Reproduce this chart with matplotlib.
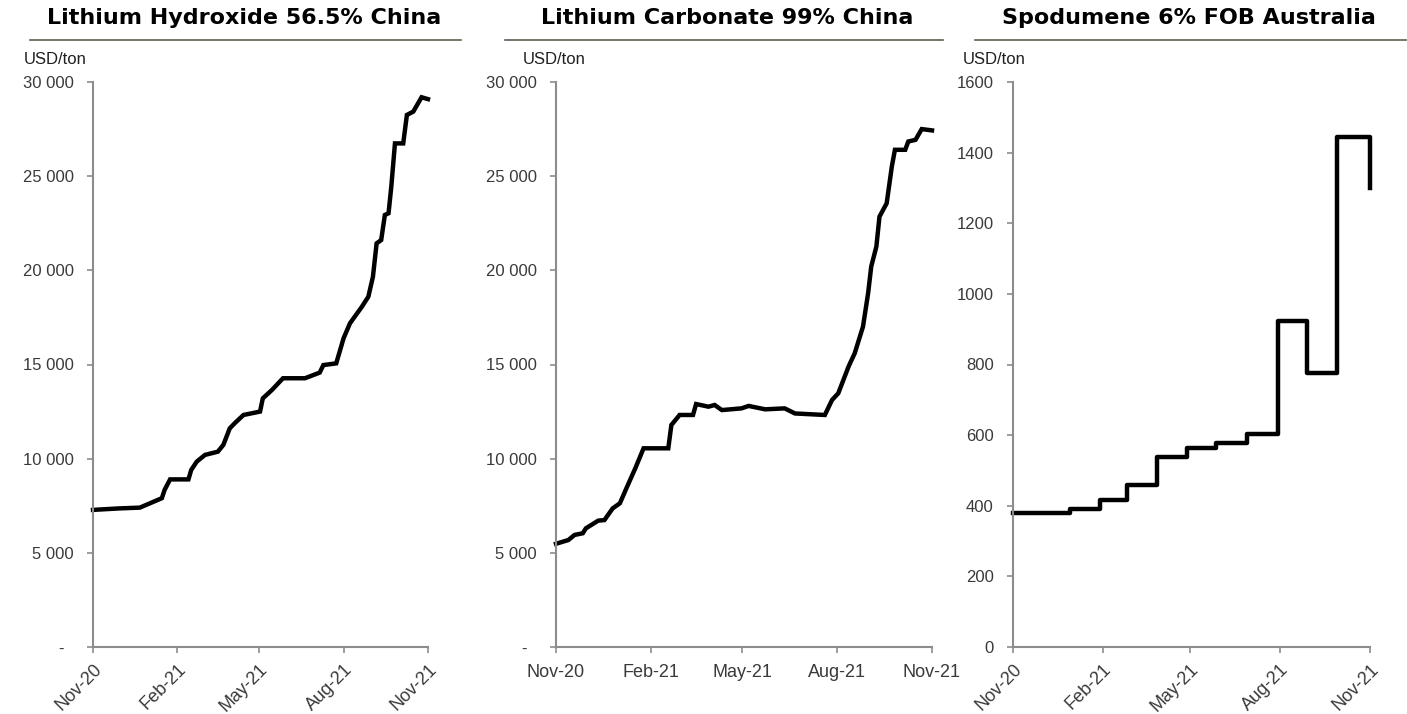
import matplotlib
matplotlib.use("Agg")
import matplotlib.pyplot as plt
import matplotlib.dates as mdates
from matplotlib.ticker import FuncFormatter
import pandas as pd

plt.rcParams["font.family"] = ["Liberation Sans", "DejaVu Sans"]

# Lithium Hydroxide 56.5% China (USD/ton)
lioh_dates = ["2020-11-01", "2020-11-30", "2020-12-22", "2021-01-02", "2021-01-15",
              "2021-01-18", "2021-01-24", "2021-02-13", "2021-02-16", "2021-02-22",
              "2021-03-03", "2021-03-17", "2021-03-23", "2021-03-30", "2021-04-05",
              "2021-04-14", "2021-05-02", "2021-05-05", "2021-05-15", "2021-05-27",
              "2021-06-20", "2021-07-06", "2021-07-10", "2021-07-24", "2021-08-01",
              "2021-08-08", "2021-08-21", "2021-08-28", "2021-09-02", "2021-09-06",
              "2021-09-11", "2021-09-15", "2021-09-19", "2021-09-22", "2021-09-26",
              "2021-10-05", "2021-10-09", "2021-10-16", "2021-10-25", "2021-11-01"]
lioh_values = [7280, 7360, 7400, 7630, 7900,
               8340, 8900, 8900, 9400, 9840,
               10200, 10370, 10730, 11610, 11910,
               12320, 12500, 13200, 13650, 14270,
               14270, 14570, 14970, 15060, 16390,
               17190, 18070, 18600, 19660, 21430,
               21610, 22940, 23030, 24440, 26740,
               26740, 28250, 28430, 29190, 29090]

# Lithium Carbonate 99% China (USD/ton)
li2co3_dates = ["2020-11-01", "2020-11-13", "2020-11-19", "2020-11-27", "2020-11-30",
                "2020-12-12", "2020-12-18", "2020-12-26", "2021-01-02", "2021-01-09",
                "2021-01-17", "2021-01-25", "2021-02-18", "2021-02-21", "2021-03-01",
                "2021-03-14", "2021-03-17", "2021-03-29", "2021-04-04", "2021-04-11",
                "2021-04-30", "2021-05-07", "2021-05-23", "2021-06-11", "2021-06-21",
                "2021-07-20", "2021-07-27", "2021-08-02", "2021-08-12", "2021-08-18",
                "2021-08-26", "2021-08-31", "2021-09-03", "2021-09-08", "2021-09-11",
                "2021-09-18", "2021-09-23", "2021-09-26", "2021-10-06", "2021-10-09",
                "2021-10-16", "2021-10-22", "2021-11-01"]
li2co3_values = [5480, 5680, 5950, 6040, 6300,
                 6710, 6740, 7360, 7630, 8510,
                 9490, 10550, 10550, 11790, 12320,
                 12320, 12900, 12760, 12850, 12580,
                 12670, 12800, 12620, 12670, 12400,
                 12320, 13120, 13470, 14890, 15600,
                 17010, 18790, 20200, 21260, 22850,
                 23560, 25510, 26400, 26400, 26840,
                 26930, 27500, 27430]

# Spodumene 6% FOB Australia (USD/ton)
spod_dates = ["2020-11-01", "2020-12-29", "2021-01-29", "2021-02-26", "2021-03-28",
              "2021-04-28", "2021-05-28", "2021-06-28", "2021-07-30", "2021-08-29",
              "2021-09-28", "2021-11-01"]
spod_values = [380, 391, 416, 459, 538, 563, 578, 603, 923, 776, 1445, 1300]

titles = ["Lithium Hydroxide 56.5% China", "Lithium Carbonate 99% China",
          "Spodumene 6% FOB Australia"]

fig = plt.figure(figsize=(14.07, 7.14), dpi=100)
W, H = 1407, 714

def px_axes(x0, x1, y0=82, y1=647):
    return fig.add_axes([x0 / W, (H - y1) / H, (x1 - x0) / W, (y1 - y0) / H])

axes = [px_axes(93, 428), px_axes(556, 932), px_axes(1013, 1370)]

def thousands(v, pos):
    if v == 0:
        return "-  "
    return f"{int(v):,}".replace(",", " ")

grey = "#8c8c8c"
text_col = "#3a3a3a"

for i, ax in enumerate(axes):
    for s in ["top", "right"]:
        ax.spines[s].set_visible(False)
    for s in ["left", "bottom"]:
        ax.spines[s].set_color(grey)
        ax.spines[s].set_linewidth(1.5)
    ax.tick_params(colors=grey, labelcolor=text_col, labelsize=12,
                   width=1.2, length=4, direction="out")
    ax.tick_params(axis="x", labelsize=13)
    ax.tick_params(axis="y", pad=10)
    ax.set_xlim(pd.Timestamp("2020-11-01"), pd.Timestamp("2021-11-01"))
    ax.xaxis.set_major_locator(mdates.MonthLocator(bymonth=[2, 5, 8, 11]))
    ax.xaxis.set_major_formatter(mdates.DateFormatter("%b-%y"))

data = [(lioh_dates, lioh_values), (li2co3_dates, li2co3_values)]
for ax, (d, v) in zip(axes[:2], data):
    ax.plot(pd.to_datetime(d), v, color="black", linewidth=3.2,
            solid_joinstyle="miter", clip_on=False)
    ax.set_ylim(0, 30000)
    ax.set_yticks(range(0, 30001, 5000))
    ax.yaxis.set_major_formatter(FuncFormatter(thousands))

axes[2].plot(pd.to_datetime(spod_dates), spod_values, color="black", linewidth=3.2,
             drawstyle="steps-post", clip_on=False)
axes[2].set_ylim(0, 1600)
axes[2].set_yticks(range(0, 1601, 200))

for ax in (axes[0], axes[2]):
    for lab in ax.get_xticklabels():
        lab.set_rotation(45)
        lab.set_ha("right")
        lab.set_rotation_mode("anchor")
    ax.tick_params(axis="x", pad=6)
axes[1].tick_params(axis="x", pad=8)

# titles, separator lines and unit labels
title_x = [244, 727, 1189]
line_x = [(30, 461), (505, 943), (975, 1406)]
unit_x = [24, 523, 963]
for t, tx, (l0, l1), ux in zip(titles, title_x, line_x, unit_x):
    fig.text(tx / W, 1 - 18 / H, t, ha="center", va="center", fontsize=16,
             fontweight="bold", family="DejaVu Sans", color="black")
    fig.add_artist(plt.Line2D([l0 / W, l1 / W], [1 - 40 / H, 1 - 40 / H],
                              color="#5f5f50", linewidth=1.2))
    fig.text(ux / W, 1 - 60 / H, "USD/ton", ha="left", va="center",
             fontsize=12, color="#202020")

fig.savefig("out.png", dpi=100)
